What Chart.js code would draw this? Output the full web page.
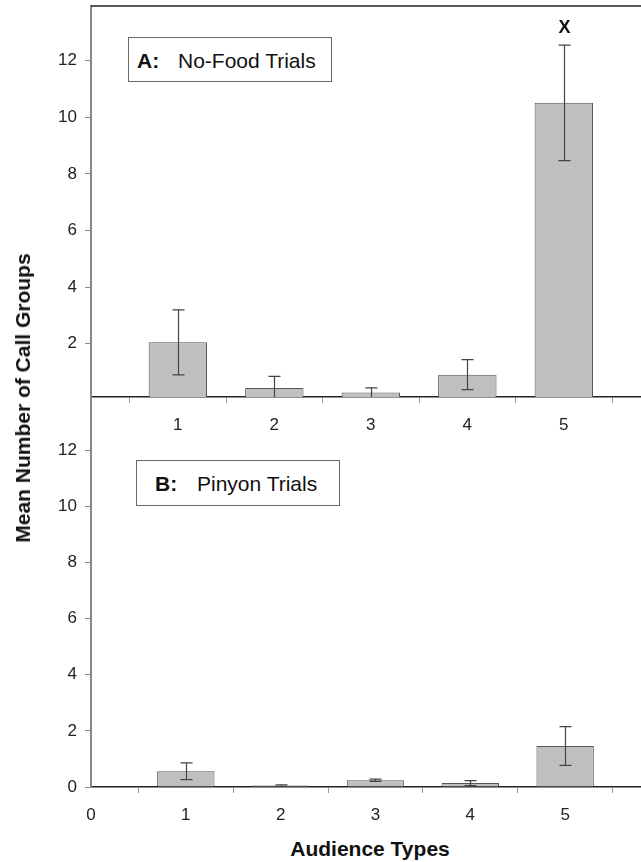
<!DOCTYPE html>
<html>
<head>
<meta charset="utf-8">
<script src="https://cdn.jsdelivr.net/npm/chart.js@4.4.1/dist/chart.umd.min.js"></script>
<style>
  body { margin: 0; background: #fff; font-family: "Liberation Sans", Arial, sans-serif; }
  #wrap { position: relative; width: 641px; height: 862px; overflow: hidden; }
  canvas { position: absolute; left: 0; }
  .box { position: absolute; box-sizing: border-box; border: 1px solid #666; background: #fff; }
  .box span { position: absolute; font-size: 21px; line-height: 24px; color: #111; white-space: nowrap; }
  .title { position: absolute; font-size: 21px; line-height: 24px; font-weight: bold; color: #111; white-space: nowrap; }
</style>
</head>
<body>
<div id="wrap">
  <canvas id="top" width="641" height="440" style="top:0"></canvas>
  <canvas id="bottom" width="641" height="440" style="top:390px"></canvas>

  <div class="box" style="left:128px; top:37px; width:204px; height:45px;">
    <span style="left:8px; top:11px; font-weight:bold;">A:</span>
    <span style="left:49px; top:11px;">No-Food Trials</span>
  </div>
  <div class="box" style="left:136px; top:460px; width:204px; height:46px;">
    <span style="left:18px; top:11px; font-weight:bold;">B:</span>
    <span style="left:60px; top:11px;">Pinyon Trials</span>
  </div>

  <div class="title" style="left:23px; top:398px; transform: translate(-50%, -50%) rotate(-90deg);">Mean Number of Call Groups</div>
  <div class="title" style="left:370px; top:837px; transform: translateX(-50%);">Audience Types</div>
</div>

<script>
// audience types on the x axis
const audienceTypes = [1, 2, 3, 4, 5];

// A: no-food trials
const noFoodMeans = [2.05, 0.44, 0.28, 0.91, 10.51];
const noFoodErr = [1.15, 0.41, 0.16, 0.53, 2.04];
const noFoodMarks = ['', '', '', '', 'X'];

// B: pinyon trials
const pinyonMeans = [0.56, 0.05, 0.24, 0.14, 1.46];
const pinyonErr = [0.30, 0.03, 0.04, 0.09, 0.69];
const pinyonMarks = ['', '', '', '', ''];

// tick labels
const topYTicks = [2, 4, 6, 8, 10, 12];
const bottomYTicks = [0, 2, 4, 6, 8, 10, 12];
const topXTicks = [1, 2, 3, 4, 5];
const bottomXTicks = [0, 1, 2, 3, 4, 5];

const FONT = '"Liberation Sans", Arial, sans-serif';

const errorBars = {
  id: 'errorBars',
  afterDatasetsDraw(chart, args, opts) {
    const { ctx, chartArea, scales: { x, y } } = chart;
    ctx.save();
    ctx.beginPath();
    ctx.rect(chartArea.left, chartArea.top - 30, chartArea.width, chartArea.height + 30);
    ctx.clip();
    ctx.strokeStyle = '#444';
    ctx.lineWidth = 1.2;
    opts.means.forEach((m, i) => {
      const px = Math.round(x.getPixelForValue(audienceTypes[i])) + 0.5;
      const hi = y.getPixelForValue(m + opts.errors[i]);
      const lo = Math.min(y.getPixelForValue(m - opts.errors[i]), chartArea.bottom);
      ctx.beginPath();
      ctx.moveTo(px, hi); ctx.lineTo(px, lo);
      ctx.moveTo(px - 6, hi); ctx.lineTo(px + 6, hi);
      if (lo < chartArea.bottom) { ctx.moveTo(px - 6, lo); ctx.lineTo(px + 6, lo); }
      ctx.stroke();
      if (opts.marks[i]) {
        ctx.fillStyle = '#111';
        ctx.font = 'bold 18px ' + FONT;
        ctx.textAlign = 'center';
        ctx.textBaseline = 'alphabetic';
        ctx.fillText(opts.marks[i], px, hi - 12);
      }
    });
    ctx.restore();
  }
};

const topFrame = {
  id: 'topFrame',
  afterDraw(chart, args, opts) {
    if (!opts.show) return;
    const { ctx, chartArea } = chart;
    ctx.save();
    ctx.strokeStyle = '#222';
    ctx.lineWidth = 1.5;
    ctx.beginPath();
    ctx.moveTo(chartArea.left, chartArea.top);
    ctx.lineTo(chartArea.right, chartArea.top);
    ctx.stroke();
    ctx.restore();
  }
};

function makePanel(canvasId, means, errors, marks, cfg) {
  return new Chart(document.getElementById(canvasId), {
    type: 'bar',
    data: {
      datasets: [{
        data: audienceTypes.map((t, i) => ({ x: t, y: means[i] })),
        backgroundColor: '#c0c0c0',
        borderColor: '#555',
        borderWidth: 1,
        categoryPercentage: 0.605,
        barPercentage: 1
      }]
    },
    options: {
      responsive: false,
      animation: false,
      layout: { padding: { top: cfg.padTop, left: 0, right: 0, bottom: 0 } },
      plugins: {
        legend: { display: false },
        tooltip: { enabled: false },
        errorBars: { means: means, errors: errors, marks: marks },
        topFrame: { show: cfg.frame }
      },
      scales: {
        x: {
          type: 'linear',
          min: cfg.xMin,
          max: 5.8,
          offset: false,
          afterBuildTicks: s => { s.ticks = cfg.xTicks.map(v => ({ value: v })); },
          afterFit: s => { s.height = 43; s.paddingLeft = 0; s.paddingRight = 0; },
          ticks: { color: '#222', font: { family: FONT, size: 17 }, padding: 12, maxRotation: 0 },
          grid: { drawOnChartArea: false, drawTicks: true, tickLength: 6, color: '#999' },
          border: { color: '#222', width: 1.5 }
        },
        y: {
          min: cfg.yMin,
          max: cfg.yMax,
          afterBuildTicks: s => { s.ticks = cfg.yTicks.map(v => ({ value: v })); },
          afterFit: s => { s.width = 91; s.paddingTop = 0; s.paddingBottom = 0; },
          ticks: { color: '#222', font: { family: FONT, size: 17 }, padding: 8 },
          grid: { drawOnChartArea: false, drawTicks: true, tickLength: 6, color: '#888' },
          border: { color: '#888', width: 2 }
        }
      }
    },
    plugins: [errorBars, topFrame]
  });
}

makePanel('top', noFoodMeans, noFoodErr, noFoodMarks, {
  padTop: 6, frame: true, xMin: 0.1, yMin: 0.12, yMax: 13.93, xTicks: topXTicks, yTicks: topYTicks
});
makePanel('bottom', pinyonMeans, pinyonErr, pinyonMarks, {
  padTop: 7, frame: false, xMin: 0, yMin: 0, yMax: 13.89, xTicks: bottomXTicks, yTicks: bottomYTicks
});
</script>
</body>
</html>
